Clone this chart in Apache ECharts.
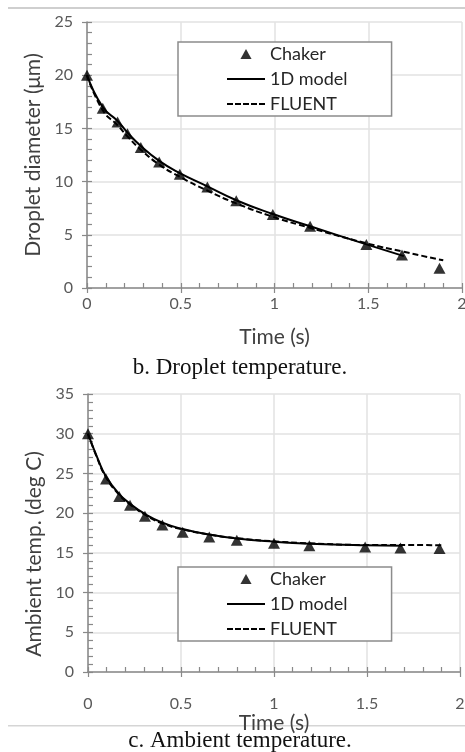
<!DOCTYPE html>
<html><head><meta charset="utf-8">
<script src="https://cdn.jsdelivr.net/npm/echarts@6/dist/echarts.min.js"></script>
<style>html,body{margin:0;padding:0;background:#fff}#c{width:465px;height:752px}</style>
</head><body><div id="c"></div>
<script>
// ---- data ----
const legendNames = ['Chaker', '1D model', 'FLUENT'];
const captionB = 'b. Droplet temperature.';
const captionC = 'c. Ambient temperature.';
const yNameB = 'Droplet diameter (\u03bcm)';
const yNameC = 'Ambient temp. (deg C)';
const xName = 'Time (s)';

const diamChakerT = [0, 0.084, 0.163, 0.216, 0.287, 0.385, 0.495, 0.642, 0.796, 0.991, 1.19, 1.49, 1.68, 1.88];
const diamChaker  = [20, 16.9, 15.6, 14.5, 13.2, 11.85, 10.7, 9.5, 8.2, 6.9, 5.8, 4.1, 3.1, 1.85];
const diam1DT     = [0, 0.084, 0.163, 0.216, 0.287, 0.385, 0.495, 0.642, 0.796, 0.991, 1.19, 1.49, 1.69];
const diam1D      = [20, 17.0, 15.7, 14.6, 13.35, 11.95, 10.8, 9.55, 8.25, 6.95, 5.8, 4.1, 3.0];
const diamFluentT = [0, 0.084, 0.163, 0.216, 0.287, 0.385, 0.495, 0.642, 0.796, 0.991, 1.19, 1.49, 1.69, 1.9];
const diamFluent  = [20, 16.7, 15.3, 14.25, 13.0, 11.6, 10.45, 9.15, 7.95, 6.7, 5.65, 4.2, 3.4, 2.6];

const ambChakerT = [0, 0.097, 0.168, 0.226, 0.306, 0.40, 0.509, 0.652, 0.80, 1.0, 1.19, 1.49, 1.68, 1.89];
const ambChaker  = [30, 24.3, 22.1, 21.0, 19.6, 18.5, 17.6, 17.0, 16.6, 16.2, 15.9, 15.75, 15.6, 15.55];
const amb1DT     = [0, 0.05, 0.097, 0.168, 0.226, 0.306, 0.40, 0.509, 0.652, 0.80, 1.0, 1.19, 1.49, 1.69];
const amb1D      = [30, 27.0, 24.6, 22.4, 21.2, 19.9, 18.8, 18.0, 17.3, 16.8, 16.4, 16.15, 15.95, 15.9];
const ambFluentT = [0, 0.05, 0.097, 0.168, 0.226, 0.306, 0.40, 0.509, 0.652, 0.80, 1.0, 1.19, 1.49, 1.69, 1.9];
const ambFluent  = [30, 26.9, 24.5, 22.3, 21.1, 19.8, 18.7, 17.95, 17.3, 16.85, 16.45, 16.2, 16.0, 16.0, 15.95];

const xMin = 0, xMax = 2, xStep = 0.5;
const yMaxB = 25, yMaxC = 35, yStep = 5;

// ---- helpers ----
const pairs = (t, v) => t.map((x, i) => [x, v[i]]);
const AX = '#898989', GRID = '#e2e2e2', TICK = '#595959', TITLE = '#404040';
const FONT = 'Lato';
const ICON_TRI = 'path://M5,0L10,9L0,9Z';
const ICON_SOLID = 'path://M0,0H38V2H0Z';
const ICON_DASH = 'path://M0,0H6V2H0Z M8,0H14V2H8Z M16,0H22V2H16Z M24,0H30V2H24Z M32,0H38V2H32Z';

function xAxes(g, labelMargin, nameGap) {
  return [{
    type: 'value', gridIndex: g, min: xMin, max: xMax, interval: xStep, position: 'bottom',
    name: xName, nameLocation: 'middle', nameGap: nameGap,
    nameTextStyle: { fontFamily: FONT, fontSize: 21, color: TITLE },
    axisLine: { lineStyle: { color: AX, width: 1.5 } },
    axisTick: { inside: true, length: 5, lineStyle: { color: AX, width: 1.2 } },
    minorTick: { show: true, splitNumber: 5, length: 5, lineStyle: { color: AX, width: 1.2 } },
    splitLine: { show: true, lineStyle: { color: GRID, width: 1.5 } },
    axisLabel: { fontFamily: FONT, fontSize: 16, color: TICK, margin: labelMargin }
  }, {
    type: 'value', gridIndex: g, min: xMin, max: xMax, interval: xStep, position: 'bottom', offset: 0,
    axisLine: { show: false }, axisLabel: { show: false }, splitLine: { show: false },
    axisTick: { inside: false, length: 5, lineStyle: { color: AX, width: 1.2 } }
  }];
}
function yAxes(g, yMax, name, namePad) {
  return [{
    type: 'value', gridIndex: g, min: 0, max: yMax, interval: yStep, position: 'left',
    name: name, nameLocation: 'middle', nameGap: 38,
    nameTextStyle: { fontFamily: FONT, fontSize: 21, color: TITLE, padding: namePad },
    axisLine: { show: true, lineStyle: { color: AX, width: 1.5 } },
    axisTick: { show: true, inside: true, length: 5, lineStyle: { color: AX, width: 1.2 } },
    minorTick: { show: true, splitNumber: 5, length: 5, lineStyle: { color: AX, width: 1.2 } },
    splitLine: { show: true, lineStyle: { color: GRID, width: 1.5 } },
    axisLabel: { fontFamily: FONT, fontSize: 16, color: TICK, margin: 14 }
  }, {
    type: 'value', gridIndex: g, min: 0, max: yMax, interval: yStep, position: 'left', offset: 0,
    axisLine: { show: false }, axisLabel: { show: false }, splitLine: { show: false },
    axisTick: { show: true, inside: false, length: 5, lineStyle: { color: AX, width: 1.2 } }
  }];
}
function legend(top) {
  return {
    left: 178, top: top, orient: 'vertical', selectedMode: false, symbolKeepAspect: true,
    data: [
      { name: legendNames[0], icon: ICON_TRI },
      { name: legendNames[1], icon: ICON_SOLID },
      { name: legendNames[2], icon: ICON_DASH }
    ],
    itemWidth: 38, itemHeight: 10, itemGap: 5,
    padding: [2, 44, 2, 49],
    borderColor: '#8c8c8c', borderWidth: 1.5, backgroundColor: '#fff',
    itemStyle: { color: '#000', borderWidth: 0 },
    textStyle: { fontFamily: FONT, fontSize: 18, color: '#262626', lineHeight: 20 }
  };
}
function seriesFor(xi, yi, chT, ch, mT, m, fT, f) {
  return [
    { name: legendNames[2], type: 'line', xAxisIndex: xi, yAxisIndex: yi, data: pairs(fT, f), smooth: true,
      symbol: 'none', showSymbol: false, lineStyle: { color: '#000', width: 2, type: [6, 3] }, itemStyle: { color: '#000' } },
    { name: legendNames[1], type: 'line', xAxisIndex: xi, yAxisIndex: yi, data: pairs(mT, m), smooth: true,
      symbol: 'none', showSymbol: false, lineStyle: { color: '#000', width: 2 }, itemStyle: { color: '#000' } },
    { name: legendNames[0], type: 'scatter', xAxisIndex: xi, yAxisIndex: yi, data: pairs(chT, ch),
      symbol: 'triangle', symbolSize: [12, 11], itemStyle: { color: '#000' } }
  ];
}

const chart = echarts.init(document.getElementById('c'), null, { renderer: 'canvas' });
chart.setOption({
  backgroundColor: '#fff',
  animation: false,
  grid: [
    { left: 87, right: 3, top: 22, height: 266, outerBoundsMode: 'none' },
    { left: 88, right: 5, top: 394, height: 278, outerBoundsMode: 'none' }
  ],
  xAxis: [...xAxes(0, 8, 39), ...xAxes(1, 24, 36)],
  yAxis: [...yAxes(0, yMaxB, yNameB, 0), ...yAxes(1, yMaxC, yNameC, [0, 42, 0, 0])],
  legend: [legend(42), legend(567)],
  series: [
    ...seriesFor(0, 0, diamChakerT, diamChaker, diam1DT, diam1D, diamFluentT, diamFluent),
    ...seriesFor(2, 2, ambChakerT, ambChaker, amb1DT, amb1D, ambFluentT, ambFluent)
  ],
  graphic: [
    { type: 'rect', shape: { x: 8, y: 7, width: 460, height: 2 }, style: { fill: '#cfcfcf' }, silent: true },
    { type: 'rect', shape: { x: 8, y: 725, width: 460, height: 1.5 }, style: { fill: '#d5d5d5' }, silent: true },
    { type: 'text', x: 240, y: 368, style: { text: captionB, font: '23px "Liberation Serif"', fill: '#111', align: 'center', verticalAlign: 'middle' } },
    { type: 'text', x: 240, y: 741, style: { text: captionC, font: '23px "Liberation Serif"', fill: '#111', align: 'center', verticalAlign: 'middle' } }
  ]
});
</script></body></html>
